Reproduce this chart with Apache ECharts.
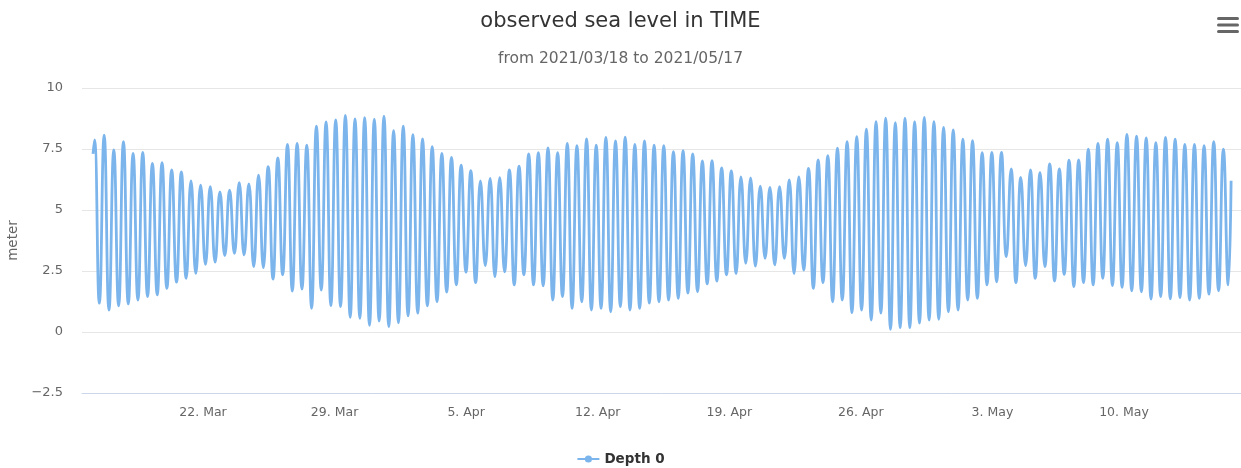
<!DOCTYPE html>
<html>
<head>
<meta charset="utf-8">
<script src="https://cdn.jsdelivr.net/npm/echarts@6/dist/echarts.min.js"></script>
<style>
  html, body { margin: 0; padding: 0; background: #fff; }
  #chart { width: 1241px; height: 468px; }
</style>
</head>
<body>
<div id="chart"></div>
<script>
// high waters, one per tide (meter)
const highWater = [
  7.87, 8.07, 7.46, 7.80, 7.32, 7.36, 6.91, 6.94, 6.64, 6.56, 6.19, 6.02, 5.96, 5.74, 5.81,
  6.12, 6.07, 6.43, 6.78, 7.14, 7.69, 7.73, 7.66, 8.44, 8.61, 8.69, 8.88, 8.73, 8.78, 8.72,
  8.85, 8.25, 8.44, 8.09, 7.91, 7.60, 7.32, 7.16, 6.84, 6.61, 6.19, 6.30, 6.33, 6.64, 6.80,
  7.30, 7.35, 7.55, 7.35, 7.73, 7.64, 7.91, 7.66, 7.98, 7.83, 7.99, 7.69, 7.83, 7.66, 7.64,
  7.39, 7.43, 7.30, 7.01, 7.02, 6.73, 6.60, 6.36, 6.32, 5.98, 5.93, 5.96, 6.23, 6.36, 6.71,
  7.05, 7.23, 7.53, 7.80, 8.01, 8.31, 8.62, 8.76, 8.58, 8.76, 8.62, 8.80, 8.62, 8.39, 8.28,
  7.90, 7.84, 7.35, 7.36, 7.36, 6.68, 6.34, 6.64, 6.53, 6.89, 6.68, 7.04, 7.05, 7.49, 7.73,
  7.90, 7.76, 8.10, 8.03, 7.96, 7.76, 7.98, 7.90, 7.69, 7.69, 7.64, 7.80, 7.49
];
// low waters, each one following the high water of the same index
const lowWater = [
  1.18, 0.90, 1.07, 1.15, 1.31, 1.45, 1.52, 1.79, 2.04, 2.20, 2.40, 2.77, 2.86, 3.13,
  3.22, 3.16, 2.68, 2.64, 2.17, 2.34, 1.68, 1.76, 0.97, 1.72, 1.08, 1.04, 0.60, 0.56, 0.27, 0.45,
  0.22, 0.38, 0.66, 0.77, 1.07, 1.24, 1.64, 1.93, 2.45, 2.02, 2.72, 2.27, 2.47, 1.93, 2.34,
  1.93, 1.89, 1.31, 1.45, 0.97, 1.24, 0.90, 0.97, 0.83, 1.04, 0.90, 0.97, 1.18, 1.24, 1.31,
  1.38, 1.59, 1.65, 1.97, 2.09, 2.34, 2.40, 2.82, 2.70, 3.02, 2.75, 3.02, 2.40, 2.54, 1.79,
  2.02, 1.24, 1.31, 0.79, 0.90, 0.49, 0.77, 0.11, 0.18, 0.18, 0.36, 0.49, 0.52, 0.83, 0.90,
  1.31, 1.38, 1.93, 2.06, 3.09, 2.02, 2.72, 2.20, 2.68, 2.09, 2.36, 1.86, 2.02, 1.93,
  2.20, 1.90, 1.83, 1.69, 1.65, 1.35, 1.45, 1.36, 1.41, 1.31, 1.38, 1.55, 1.69, 1.93
];
// first and last sample of the record
const firstLevel = 7.3;
const lastLevel = 6.2;

// first high water and the spacing between high and low water
const firstHighTime = new Date(2021, 2, 16, 5, 28).getTime();
const halfTideHours = 6.16;

const tickDates = [
  [2021, 2, 22], [2021, 2, 29], [2021, 3, 5], [2021, 3, 12],
  [2021, 3, 19], [2021, 3, 26], [2021, 4, 3], [2021, 4, 10]
];
const tickLabels = ['22. Mar', '29. Mar', '5. Apr', '12. Apr', '19. Apr', '26. Apr', '3. May', '10. May'];
const yTicks = [-2.5, 0, 2.5, 5, 7.5, 10];

const HOUR = 3600 * 1000;
const tickTimes = tickDates.map((d) => new Date(d[0], d[1], d[2]).getTime());

// high, low, high, low ... in time order
const seaLevel = [[firstHighTime - 0.3 * halfTideHours * HOUR, firstLevel]];
highWater.forEach((h, i) => {
  const t = firstHighTime + 2 * i * halfTideHours * HOUR;
  seaLevel.push([t, h]);
  if (lowWater[i] !== undefined) seaLevel.push([t + halfTideHours * HOUR, lowWater[i]]);
});
const lastLow = seaLevel[seaLevel.length - 1][0];
seaLevel.push([lastLow + 0.6 * halfTideHours * HOUR, lastLevel]);

const chart = echarts.init(document.getElementById('chart'));
const fontFamily = '"DejaVu Sans", sans-serif';

chart.setOption({
  backgroundColor: '#fff',
  animation: false,
  title: {
    text: 'observed sea level in TIME',
    subtext: 'from 2021/03/18 to 2021/05/17',
    left: 'center',
    top: 6,
    itemGap: 19,
    textStyle: { color: '#333', fontSize: 21, fontWeight: 'normal', fontFamily },
    subtextStyle: { color: '#666', fontSize: 15.5, fontFamily }
  },
  graphic: [0, 6.5, 13].map((dy) => ({
    type: 'rect',
    left: 1217,
    top: 17 + dy,
    shape: { width: 22, height: 3, r: 1.5 },
    style: { fill: '#666' }
  })),
  legend: {
    top: 447,
    left: 'center',
    itemWidth: 22,
    itemHeight: 9,
    itemGap: 6,
    textStyle: { color: '#333', fontSize: 13.5, fontWeight: 'bold', fontFamily }
  },
  grid: { left: 82, right: 0, top: 88, bottom: 75, outerBoundsMode: 'none' },
  xAxis: {
    // time values on a plain value axis so the weekly ticks can be placed exactly
    type: 'value',
    min: new Date(2021, 2, 15, 13, 30).getTime(),
    max: new Date(2021, 4, 16, 5, 23).getTime(),
    axisLine: { onZero: false, lineStyle: { color: '#ccd6eb' } },
    axisTick: { show: false },
    splitLine: { show: false },
    axisLabel: {
      customValues: tickTimes,
      color: '#666',
      fontSize: 12.5,
      fontFamily,
      margin: 13,
      formatter: (v) => tickLabels[tickTimes.indexOf(v)] || ''
    }
  },
  yAxis: {
    type: 'value',
    min: -2.5,
    max: 10,
    interval: 2.5,
    name: 'meter',
    nameLocation: 'middle',
    nameRotate: 90,
    nameGap: 60,
    nameTextStyle: { color: '#666', fontSize: 13.5, fontFamily },
    axisLine: { show: false },
    axisTick: { show: false },
    splitLine: { lineStyle: { color: '#e6e6e6' } },
    axisLabel: {
      color: '#666',
      fontSize: 13,
      fontFamily,
      margin: 19,
      formatter: (v) => (yTicks.includes(v) ? String(v).replace('-', '\u2212') : '')
    }
  },
  series: [{
    name: 'Depth 0',
    type: 'line',
    data: seaLevel,
    smooth: 0.5,
    symbol: 'circle',
    symbolSize: 8,
    showSymbol: false,
    lineStyle: { color: '#7cb5ec', width: 2.8 },
    itemStyle: { color: '#7cb5ec' }
  }]
});
</script>
</body>
</html>
